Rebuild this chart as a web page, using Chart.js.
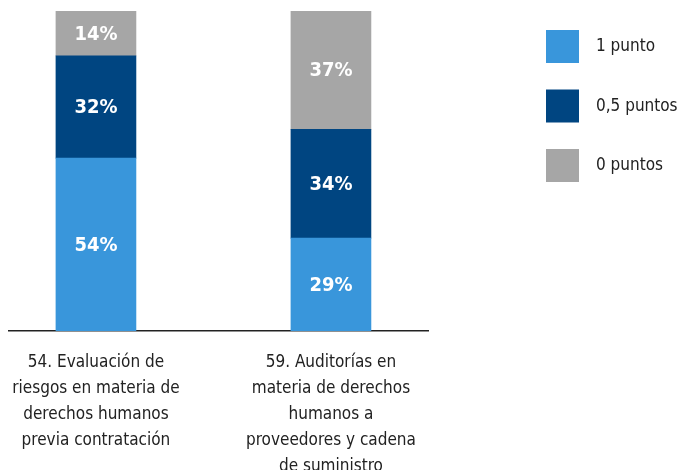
<!DOCTYPE html>
<html>
<head>
<meta charset="utf-8">
<script src="https://cdn.jsdelivr.net/npm/chart.js@4"></script>
<style>
  html, body { margin: 0; padding: 0; background: #fff; }
  #wrap { width: 678px; height: 470px; }
</style>
</head>
<body>
<div id="wrap"><canvas id="chart"></canvas></div>
<script>
const FONT = '"Liberation Sans Narrow", "DejaVu Sans Condensed", "Roboto", sans-serif';

// Categories (x positions 0 and 1) and their multi-line labels
const categories = [
    ['54. Evaluación de', 'riesgos en materia de', 'derechos humanos', 'previa contratación'],
    ['59. Auditorías en', 'materia de derechos', 'humanos a', 'proveedores y cadena', 'de suministro']
];

// Series values (%)
const seriesNames = ['1 punto', '0,5 puntos', '0 puntos'];
const onePoint = [54, 29];
const halfPoint = [32, 34];
const zeroPoints = [14, 37];
const seriesColors = ['#3996db', '#004581', '#a6a6a6'];

// Visible x range around the two bars
const xMin = -0.37;
const xMax = 1.413;

function toPoints(values) {
    return values.map((v, i) => ({ x: i, y: v }));
}

// Percent labels inside each segment
const segmentLabels = {
    id: 'segmentLabels',
    afterDatasetsDraw(chart) {
        const ctx = chart.ctx;
        ctx.save();
        ctx.fillStyle = '#ffffff';
        ctx.font = 'bold 20px ' + FONT;
        ctx.textAlign = 'center';
        ctx.textBaseline = 'middle';
        chart.data.datasets.forEach((ds, di) => {
            const meta = chart.getDatasetMeta(di);
            meta.data.forEach((bar, i) => {
                const mid = (bar.y + bar.base) / 2;
                ctx.fillText(ds.data[i].y + '%', bar.x, mid + 1);
            });
        });
        ctx.restore();
    }
};

// Legend at the right, top to bottom
const sideLegend = {
    id: 'sideLegend',
    afterDraw(chart) {
        const ctx = chart.ctx;
        ctx.save();
        ctx.font = '17px ' + FONT;
        ctx.textBaseline = 'middle';
        ctx.textAlign = 'left';
        chart.data.datasets.forEach((ds, i) => {
            const top = 30 + i * 59.5;
            ctx.fillStyle = ds.backgroundColor;
            ctx.fillRect(546, top, 33, 33);
            ctx.fillStyle = '#222222';
            ctx.fillText(ds.label, 596, top + 17);
        });
        ctx.restore();
    }
};

const ctx = document.getElementById('chart').getContext('2d');
new Chart(ctx, {
    type: 'bar',
    data: {
        datasets: [
            { label: seriesNames[0], data: toPoints(onePoint), backgroundColor: seriesColors[0] },
            { label: seriesNames[1], data: toPoints(halfPoint), backgroundColor: seriesColors[1] },
            { label: seriesNames[2], data: toPoints(zeroPoints), backgroundColor: seriesColors[2] }
        ]
    },
    options: {
        responsive: true,
        maintainAspectRatio: false,
        animation: false,
        layout: { padding: { left: 9, right: 250, top: 11, bottom: 0 } },
        datasets: { bar: { barThickness: 80, borderWidth: 0 } },
        plugins: {
            legend: { display: false },
            tooltip: { enabled: false }
        },
        scales: {
            x: {
                type: 'linear',
                stacked: true,
                offset: false,
                min: xMin,
                max: xMax,
                grid: { display: false, drawTicks: false, offset: false },
                border: { display: true, color: '#222222', width: 1.5 },
                afterBuildTicks: (scale) => {
                    scale.ticks = categories.map((c, i) => ({ value: i }));
                },
                afterFit: (scale) => {
                    scale.height = 139;
                    scale.paddingLeft = 0;
                    scale.paddingRight = 0;
                },
                ticks: {
                    padding: 18,
                    autoSkip: false,
                    maxRotation: 0,
                    color: '#222222',
                    font: { family: FONT, size: 17, lineHeight: 1.54 },
                    callback: (value) => categories[value] || ''
                }
            },
            y: {
                display: false,
                stacked: true,
                min: 0,
                max: 100
            }
        }
    },
    plugins: [segmentLabels, sideLegend]
});
</script>
</body>
</html>
